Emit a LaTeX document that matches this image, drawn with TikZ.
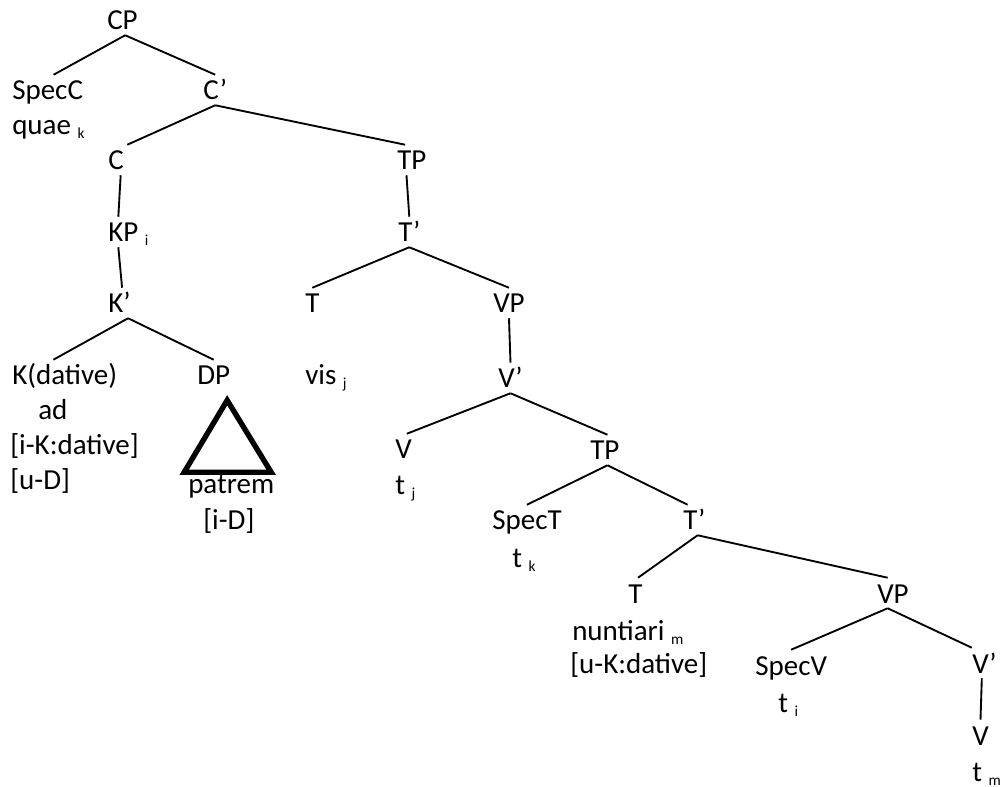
\documentclass[tikz,border=0pt]{standalone}
\usepackage{fontspec}
\setmainfont{Carlito}
\newcommand{\idx}[1]{\raisebox{-3pt}{\fontsize{11.5}{12}\selectfont #1}}
\tikzset{
  lbl/.style={
    anchor=base west, inner sep=0pt,
    text height=18.75pt, text depth=3.75pt,
    font=\fontsize{21.75}{26.25}\selectfont
  },
  branch/.style={line width=1.4pt},
  roof/.style={line width=4pt, line join=miter}
}

\begin{document}
\begin{tikzpicture}[x=0.75pt, y=-0.75pt]
\useasboundingbox (0,0) rectangle (1003,787);

% ==============================================================================
% CP and C' level
% ==============================================================================
\node[lbl] (cp) at (107,30) {CP};

\node[lbl] (specc) at (12,100) {SpecC};
\node[lbl] (quae) at (12,135) {quae \idx{k}};

\node[lbl] (cbar) at (203,100) {C’};

\node[lbl] (c) at (108,170) {C};
\node[lbl] (tp1) at (397,170) {TP};

% ==============================================================================
% KP branch
% ==============================================================================
\node[lbl] (kp) at (108,242) {KP \idx{i}};
\node[lbl] (kbar) at (108,313) {K’};

\node[lbl] (kdat) at (12,385) {K(dative)};
\node[lbl] (ad) at (38,420) {ad};
\node[lbl] (ikdat) at (10,455) {[i-K:dative]};
\node[lbl] (ud) at (10,490) {[u-D]};

\node[lbl] (dp) at (197,385) {DP};
\node[lbl] (patrem) at (188,494) {patrem};
\node[lbl] (id) at (203,529) {[i-D]};

% ==============================================================================
% TP branch
% ==============================================================================
\node[lbl] (tbar1) at (398,242) {T’};

\node[lbl] (t1) at (305,313) {T};
\node[lbl] (vis) at (305,385) {vis \idx{j}};

\node[lbl] (vp1) at (493,313) {VP};
\node[lbl] (vbar1) at (498,388) {V’};

\node[lbl] (v1) at (395,459) {V};
\node[lbl] (tj) at (395,495) {t \idx{j}};

\node[lbl] (tp2) at (590,460) {TP};

\node[lbl] (spect) at (492,530) {SpecT};
\node[lbl] (tk) at (512,567) {t \idx{k}};

\node[lbl] (tbar2) at (683,530) {T’};

\node[lbl] (t2) at (628,603) {T};
\node[lbl] (nunt) at (572,640) {nuntiari \idx{m}};
\node[lbl] (ukdat) at (570,673) {[u-K:dative]};

\node[lbl] (vp2) at (877,603) {VP};

\node[lbl] (specv) at (755,675) {SpecV};
\node[lbl] (ti) at (778,712) {t \idx{i}};

\node[lbl] (vbar2) at (972,673) {V’};
\node[lbl] (v2) at (972,745) {V};
\node[lbl] (tm) at (972,781) {t \idx{m}};

% ==============================================================================
% Branches
% ==============================================================================
\draw[branch] ([xshift=2pt]cp.south) -- ([xshift=4.5pt]specc.north);
\draw[branch] ([xshift=2pt]cp.south) -- (cbar.north);

\draw[branch] (cbar.south) -- ([xshift=8.5pt]c.north);
\draw[branch] (cbar.south) -- ([xshift=-5pt]tp1.north);

\draw[branch] ([xshift=3.5pt]c.south) -- ([xshift=-7.5pt]kp.north);
\draw[branch] ([xshift=-7.5pt]kp.south) -- ([xshift=2pt]kbar.north);

\draw[branch] ([xshift=6.5pt]kbar.south) -- ([xshift=-8.5pt]kdat.north);
\draw[branch] ([xshift=6.5pt]kbar.south) -- (dp.north);

\draw[roof] ([shift={(13.5,10)}]dp.south) -- ++(-43,72) -- ++(87,0) -- cycle;

\draw[branch] ([xshift=-4pt]tp1.south) -- (tbar1.north);
\draw[branch] (tbar1.south) -- (t1.north);
\draw[branch] (tbar1.south) -- (vp1.north);

\draw[branch] (vp1.south) -- (vbar1.north);
\draw[branch] (vbar1.south) -- ([xshift=2.5pt]v1.north);
\draw[branch] (vbar1.south) -- ([xshift=2pt]tp2.north);

\draw[branch] ([xshift=2pt]tp2.south) -- (spect.north);
\draw[branch] ([xshift=2pt]tp2.south) -- ([xshift=-5pt]tbar2.north);

\draw[branch] ([xshift=2.5pt]tbar2.south) -- ([xshift=2pt]t2.north);
\draw[branch] ([xshift=2.5pt]tbar2.south) -- ([xshift=-4pt]vp2.north);

\draw[branch] ([xshift=-4pt]vp2.south) -- (specv.north);
\draw[branch] ([xshift=-4pt]vp2.south) -- ([xshift=-9.5pt]vbar2.north);

\draw[branch] ([xshift=-2pt]vbar2.south) -- (v2.north);

\end{tikzpicture}
\end{document}
